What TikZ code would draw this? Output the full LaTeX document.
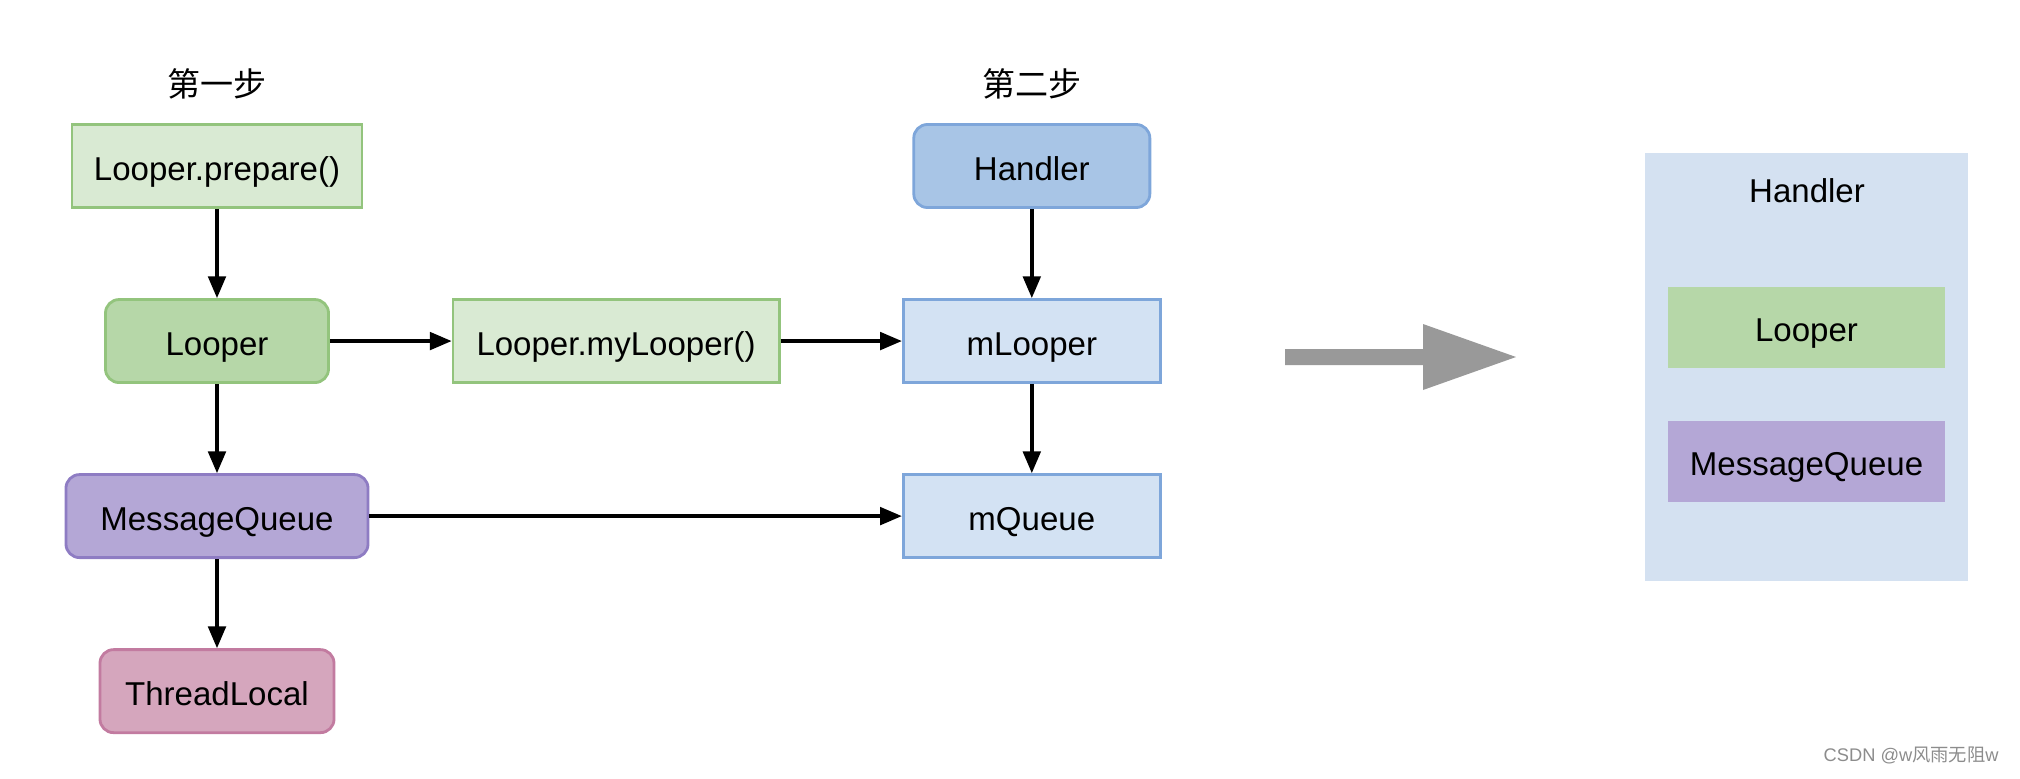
\documentclass[tikz,border=0pt]{standalone}
\usepackage{fontspec}
\setmainfont{Liberation Sans}
\newfontfamily\cjkfont{Noto Sans CJK SC}
\usetikzlibrary{arrows.meta,positioning,shapes}
\definecolor{lightgreen}{HTML}{D9EAD3}
\definecolor{midgreen}{HTML}{B6D7A8}
\definecolor{greenline}{HTML}{93C47D}
\definecolor{purplefill}{HTML}{B4A7D6}
\definecolor{purpleline}{HTML}{8E7CC3}
\definecolor{pinkfill}{HTML}{D5A6BD}
\definecolor{pinkline}{HTML}{C27BA0}
\definecolor{handlerfill}{HTML}{A8C5E6}
\definecolor{bluefill}{HTML}{D3E2F3}
\definecolor{blueline}{HTML}{7EA6DA}
\definecolor{panelfill}{HTML}{D4E1F1}
\definecolor{arrowgray}{HTML}{999999}

\begin{document}
\begin{tikzpicture}[x=0.025cm,y=-0.025cm,->,>={Stealth[inset=0pt,length=15.5pt,width=12.5pt]},line width=2.4pt,node distance=4.375cm,
    txt/.style={font=\fontsize{23.5}{28}\selectfont},
    box/.style={txt,draw,line width=2pt,minimum height=2.075cm,inner sep=0pt,text height=20pt,text depth=0pt},
    round box/.style={box,rounded corners=0.34cm},
    inner box/.style={txt,minimum width=6.925cm,minimum height=2.025cm,inner sep=0pt,text height=20pt,text depth=0pt}]

    \useasboundingbox (0,0) rectangle (2020,778);

    % first step
    \node[box,fill=lightgreen,draw=greenline,minimum width=7.25cm] (prepare) at (217,166) {Looper.prepare()};
    \node[round box,fill=midgreen,draw=greenline,minimum width=5.575cm] (looper) [below of = prepare] {Looper};
    \node[round box,fill=purplefill,draw=purpleline,minimum width=7.55cm] (mq) [below of = looper] {MessageQueue};
    \node[round box,fill=pinkfill,draw=pinkline,minimum width=5.85cm] (tl) [below of = mq] {ThreadLocal};
    \node[txt] (step1) [above of = prepare, node distance=2.05cm] {\cjkfont 第一步};

    % second step
    \node[box,fill=lightgreen,draw=greenline,minimum width=8.15cm] (mylooper) [right of = looper, node distance=9.975cm] {Looper.myLooper()};
    \node[box,fill=bluefill,draw=blueline,minimum width=6.425cm] (mlooper) [right of = mylooper, node distance=10.39cm] {mLooper};
    \node[round box,fill=handlerfill,draw=blueline,minimum width=5.9cm] (handler) [above of = mlooper] {Handler};
    \node[box,fill=bluefill,draw=blueline,minimum width=6.425cm] (mqueue) [below of = mlooper] {mQueue};
    \node[txt] (step2) [above of = handler, node distance=2.05cm] {\cjkfont 第二步};

    \path
        (prepare) edge (looper)
        (looper) edge (mq)
        (mq) edge (tl)
        (looper) edge (mylooper)
        (mylooper) edge (mlooper)
        (mq) edge (mqueue)
        (handler) edge (mlooper)
        (mlooper) edge (mqueue)
    ;

    % result
    \fill[-,arrowgray] (1285,349) -- (1423,349) -- (1423,324) -- (1516,357) -- (1423,390) -- (1423,365) -- (1285,365) -- cycle;

    \node[fill=panelfill,minimum width=8.075cm,minimum height=10.7cm,inner sep=0pt] (panel) at (1806.5,367) {};
    \node[txt] (plabel) at (1807,191) {Handler};
    \node[inner box,fill=midgreen] (plooper) at (1806.5,327.5) {Looper};
    \node[inner box,fill=purplefill] (pmq) at (1806.5,461.5) {MessageQueue};

    \node[anchor=east,text=black!45,font=\fontsize{13}{15}\selectfont] (mark) at (2005,755) {CSDN @w{\cjkfont 风雨无阻}w};
\end{tikzpicture}
\end{document}
